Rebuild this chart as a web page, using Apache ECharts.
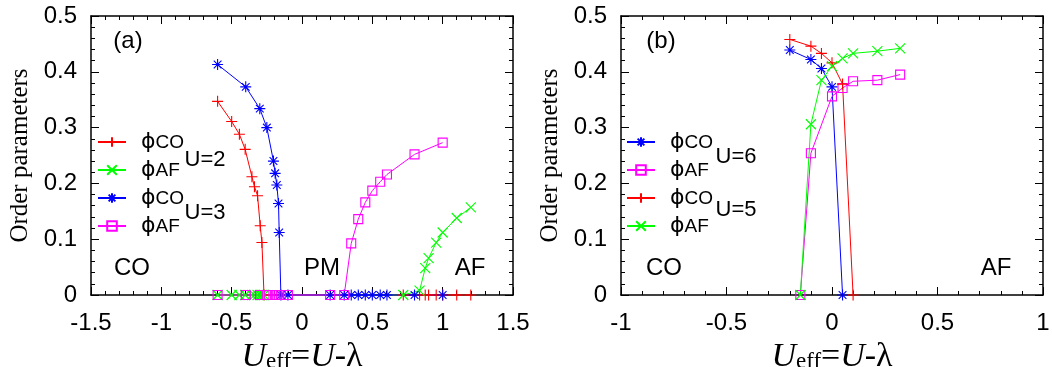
<!DOCTYPE html>
<html><head><meta charset="utf-8">
<script src="https://cdn.jsdelivr.net/npm/echarts@6/dist/echarts.min.js"></script>
<style>html,body{margin:0;padding:0;background:#fff}#c{width:1052px;height:367px}</style>
</head><body><div id="c"></div>
<script>
// ---------- Panel (a) data ----------
const a_u2_co_x = [-0.6, -0.5, -0.445, -0.404, -0.356, -0.338, -0.316, -0.297, -0.285, -0.27, 0.72, 0.836, 0.876, 0.9, 0.954, 1.0, 1.1, 1.2];
const a_u2_co_y = [0.347, 0.311, 0.288, 0.261, 0.212, 0.194, 0.178, 0.124, 0.094, 0, 0, 0, 0, 0, 0, 0, 0, 0];
const a_u2_af_x = [-0.6, -0.5, -0.445, -0.404, -0.356, -0.338, -0.316, -0.297, -0.285, -0.27, 0.72, 0.836, 0.876, 0.9, 0.954, 1.0, 1.1, 1.2];
const a_u2_af_y = [0, 0, 0, 0, 0, 0, 0, 0, 0, 0, 0, 0.008, 0.048, 0.066, 0.094, 0.112, 0.138, 0.157];
const a_u3_co_x = [-0.6, -0.4, -0.3, -0.25, -0.203, -0.191, -0.179, -0.167, -0.162, -0.15, -0.1, 0.2, 0.3, 0.35, 0.4, 0.45, 0.5, 0.556, 0.604, 0.8, 1.0];
const a_u3_co_y = [0.413, 0.373, 0.334, 0.300, 0.240, 0.218, 0.197, 0.164, 0.112, 0, 0, 0, 0, 0, 0, 0, 0, 0, 0, 0, 0];
const a_u3_af_x = [-0.6, -0.4, -0.3, -0.25, -0.203, -0.191, -0.179, -0.167, -0.162, -0.15, -0.1, 0.2, 0.3, 0.35, 0.4, 0.45, 0.5, 0.556, 0.604, 0.8, 1.0];
const a_u3_af_y = [0, 0, 0, 0, 0, 0, 0, 0, 0, 0, 0, 0, 0, 0.0925, 0.136, 0.166, 0.187, 0.203, 0.216, 0.252, 0.273];

// ---------- Panel (b) data ----------
const b_u6_co_x = [-0.2, -0.1, -0.05, 0, 0.05];
const b_u6_co_y = [0.439, 0.422, 0.406, 0.373, 0];
const b_u6_af_x = [-0.15, -0.1, 0, 0.05, 0.1, 0.215, 0.323];
const b_u6_af_y = [0, 0.254, 0.356, 0.371, 0.383, 0.385, 0.395];
const b_u5_co_x = [-0.2, -0.1, -0.05, 0, 0.05, 0.1];
const b_u5_co_y = [0.458, 0.446, 0.433, 0.416, 0.378, 0];
const b_u5_af_x = [-0.15, -0.1, -0.05, 0, 0.05, 0.1, 0.215, 0.323];
const b_u5_af_y = [0, 0.306, 0.385, 0.410, 0.424, 0.433, 0.437, 0.442];

// ---------- axes ----------
const a_xRange = [-1.5, 1.5, 0.5];
const b_xRange = [-1, 1, 0.5];
const yRange = [0, 0.5, 0.1];

const RED = '#ff0000', GREEN = '#00ff00', BLUE = '#0000ff', MAG = '#ff00ff';
const SYM_PLUS = 'path://M5,0L5,10M0,5L10,5';
const SYM_CROSS = 'path://M0,0L10,10M10,0L0,10';
const SYM_STAR = 'path://M5,0L5,10M0,5L10,5M1.5,1.5L8.5,8.5M8.5,1.5L1.5,8.5';
const SYM_SQ = 'path://M0,0L10,0L10,10L0,10Z';

function pairs(xs, ys) { return xs.map((x, i) => [x, ys[i]]); }
function mk(name, xs, ys, color, symbol, size, xi, yi) {
  return {
    type: 'line', name, data: pairs(xs, ys), xAxisIndex: xi, yAxisIndex: yi,
    symbol, symbolSize: size, showAllSymbol: true, clip: false,
    lineStyle: { color, width: 1 },
    itemStyle: { color: 'rgba(0,0,0,0)', borderColor: color, borderWidth: 1.1 },
    emphasis: { disabled: true }, animation: false, z: 3
  };
}

const SANS = 'Liberation Sans';
const SERIF = 'Liberation Serif';

function xAx(r, grid, pos, labels, minorSplit) {
  return {
    type: 'value', gridIndex: grid, position: pos, min: r[0], max: r[1], interval: r[2],
    axisLine: { show: true, onZero: false, lineStyle: { color: '#000', width: 1.5 } },
    axisTick: { show: true, inside: true, length: 8, lineStyle: { color: '#000', width: 1 } },
    minorTick: { show: true, splitNumber: minorSplit, length: 4, lineStyle: { color: '#000', width: 1 } },
    splitLine: { show: false },
    axisLabel: { show: labels, fontFamily: SANS, fontSize: 24, color: '#000', margin: 16 },
    name: labels ? '{ui|U}{sub|eff}{n|=}{ui|U}{n|-λ}' : '',
    nameLocation: 'middle', nameGap: 32,
    nameTextStyle: {
      rich: {
        ui: { fontFamily: SERIF, fontStyle: 'italic', fontSize: 34, color: '#000', lineHeight: 33 },
        n: { fontFamily: SERIF, fontSize: 34, color: '#000', lineHeight: 33 },
        sub: { fontFamily: SERIF, fontSize: 23, color: '#000', lineHeight: 14, verticalAlign: 'bottom' }
      }
    }
  };
}
function yAx(grid, pos, labels) {
  return {
    type: 'value', gridIndex: grid, position: pos, min: yRange[0], max: yRange[1], interval: yRange[2],
    axisLine: { show: true, onZero: false, lineStyle: { color: '#000', width: 1.5 } },
    axisTick: { show: true, inside: true, length: 8, lineStyle: { color: '#000', width: 1 } },
    minorTick: { show: true, splitNumber: 5, length: 4, lineStyle: { color: '#000', width: 1 } },
    splitLine: { show: false },
    axisLabel: { show: labels, fontFamily: SANS, fontSize: 24, color: '#000', margin: 14 },
    name: labels ? 'Order parameters' : '',
    nameLocation: 'middle', nameRotate: 90, nameGap: 58,
    nameTextStyle: { fontFamily: SERIF, fontSize: 25, color: '#000' }
  };
}

const legRich = {
  sp: { width: 10 },
  phi: { fontFamily: 'DejaVu Sans', fontSize: 22, color: '#000', lineHeight: 20 },
  sub: { fontFamily: SANS, fontSize: 19, color: '#000', lineHeight: 10, verticalAlign: 'bottom' }
};
function legFmt(name) { return name.indexOf('CO') >= 0 ? '{sp|}{phi|ϕ}{sub|CO}' : '{sp|}{phi|ϕ}{sub|AF}'; }
function leg(names, left) {
  return {
    data: names, orient: 'vertical', left, top: 131, padding: 0,
    itemWidth: 28, itemHeight: 12, itemGap: 6, selectedMode: false,
    formatter: legFmt, textStyle: { rich: legRich }
  };
}
function txt(t, x, y, size) {
  return { type: 'text', x, y, style: { text: t, font: (size || 24) + 'px "' + SANS + '"', fill: '#000', textAlign: 'center', textVerticalAlign: 'middle' }, z: 10 };
}

const chart = echarts.init(document.getElementById('c'), null, { renderer: 'canvas' });
chart.setOption({
  animation: false,
  backgroundColor: '#fff',
  grid: [
    { left: 91, right: 539, top: 16, bottom: 72, outerBoundsMode: 'none', containLabel: false },
    { left: 621, right: 9, top: 16, bottom: 72, outerBoundsMode: 'none', containLabel: false }
  ],
  xAxis: [xAx(a_xRange, 0, 'bottom', true, 5), xAx(a_xRange, 0, 'top', false, 5),
          xAx(b_xRange, 1, 'bottom', true, 5), xAx(b_xRange, 1, 'top', false, 5)],
  yAxis: [yAx(0, 'left', true), yAx(0, 'right', false), yAx(1, 'left', true), yAx(1, 'right', false)],
  legend: [
    leg(['φCO U=2', 'φAF U=2', 'φCO U=3', 'φAF U=3'], 97),
    leg(['φCO U=6', 'φAF U=6', 'φCO U=5', 'φAF U=5'], 626)
  ],
  series: [
    mk('φCO U=2', a_u2_co_x, a_u2_co_y, RED, SYM_PLUS, 11, 0, 0),
    mk('φAF U=2', a_u2_af_x, a_u2_af_y, GREEN, SYM_CROSS, 10, 0, 0),
    mk('φCO U=3', a_u3_co_x, a_u3_co_y, BLUE, SYM_STAR, 11, 0, 0),
    mk('φAF U=3', a_u3_af_x, a_u3_af_y, MAG, SYM_SQ, 9, 0, 0),
    mk('φCO U=6', b_u6_co_x, b_u6_co_y, BLUE, SYM_STAR, 11, 2, 2),
    mk('φAF U=6', b_u6_af_x, b_u6_af_y, MAG, SYM_SQ, 9, 2, 2),
    mk('φCO U=5', b_u5_co_x, b_u5_co_y, RED, SYM_PLUS, 11, 2, 2),
    mk('φAF U=5', b_u5_af_x, b_u5_af_y, GREEN, SYM_CROSS, 10, 2, 2)
  ],
  graphic: [
    txt('(a)', 128, 41), txt('CO', 132, 268), txt('PM', 322, 268), txt('AF', 470, 268),
    txt('U=2', 205, 160, 22), txt('U=3', 205, 213, 22),
    txt('(b)', 661, 41), txt('CO', 664, 268), txt('AF', 996, 268),
    txt('U=6', 736, 157, 22), txt('U=5', 736, 210, 22)
  ]
});
</script>
</body></html>
